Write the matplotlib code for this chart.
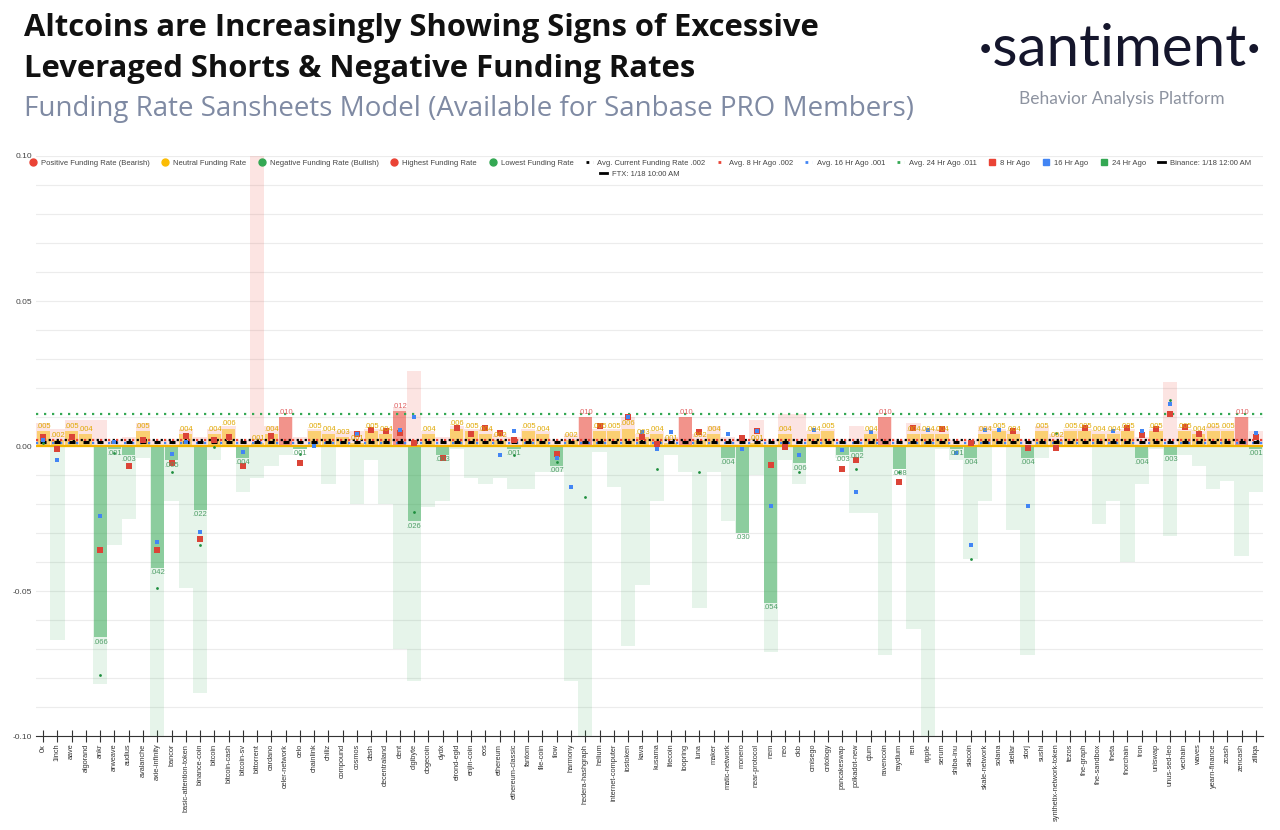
import numpy as np
import matplotlib.pyplot as plt
from matplotlib.lines import Line2D

nan = np.nan

coins = ['0x', '1inch', 'aave', 'algorand', 'ankr', 'arweave', 'audius', 'avalanche',
         'axie-infinity', 'bancor', 'basic-attention-token', 'binance-coin', 'bitcoin',
         'bitcoin-cash', 'bitcoin-sv', 'bittorrent', 'cardano', 'celer-network', 'celo',
         'chainlink', 'chiliz', 'compound', 'cosmos', 'dash', 'decentraland', 'dent',
         'digibyte', 'dogecoin', 'dydx', 'elrond-egld', 'enjin-coin', 'eos', 'ethereum',
         'ethereum-classic', 'fantom', 'file-coin', 'flow', 'harmony', 'hedera-hashgraph',
         'helium', 'internet-computer', 'iostoken', 'kava', 'kusama', 'litecoin', 'loopring',
         'luna', 'maker', 'matic-network', 'monero', 'near-protocol', 'nem', 'neo', 'okb',
         'omisego', 'ontology', 'pancakeswap', 'polkadot-new', 'qtum', 'ravencoin', 'raydium',
         'ren', 'ripple', 'serum', 'shiba-inu', 'siacoin', 'skale-network', 'solana', 'stellar',
         'storj', 'sushi', 'synthetix-network-token', 'tezos', 'the-graph', 'the-sandbox',
         'theta', 'thorchain', 'tron', 'uniswap', 'unus-sed-leo', 'vechain', 'waves',
         'yearn-finance', 'zcash', 'zencash', 'zilliqa']

# current funding rate
current = [0.005, 0.002, 0.005, 0.004, -0.066, -0.001, -0.003, 0.005, -0.042, -0.005,
           0.004, -0.022, 0.004, 0.006, -0.004, 0.001, 0.004, 0.010, -0.001, 0.005,
           0.004, 0.003, 0.001, 0.005, 0.004, 0.012, -0.026, 0.004, -0.003, 0.006,
           0.005, 0.004, 0.002, -0.001, 0.005, 0.004, -0.007, 0.002, 0.010, 0.005,
           0.005, 0.006, 0.003, 0.004, 0.001, 0.010, 0.002, 0.004, -0.004, -0.030,
           0.001, -0.054, 0.004, -0.006, 0.004, 0.005, -0.003, -0.002, 0.004, 0.010,
           -0.008, 0.004, 0.004, 0.004, -0.001, -0.004, 0.004, 0.005, 0.004, -0.004,
           0.005, 0.002, 0.005, 0.005, 0.004, 0.004, 0.005, -0.004, 0.005, -0.003,
           0.005, 0.004, 0.005, 0.005, 0.010, -0.001]

# highest / lowest funding rate (light bars)
range_high = [0.008, 0.006, 0.009, 0.009, 0.009, 0.002, 0.003, 0.008, 0.002, 0.002,
              0.006, 0.003, 0.006, 0.007, 0.002, 0.100, 0.007, 0.010, 0.003, 0.006,
              0.005, 0.005, 0.005, 0.006, 0.006, 0.013, 0.026, 0.005, 0.003, 0.007,
              0.006, 0.006, 0.004, 0.003, 0.006, 0.005, 0.002, 0.004, 0.010, 0.006,
              0.006, 0.010, 0.004, 0.005, 0.003, 0.010, 0.004, 0.007, 0.003, 0.002,
              0.009, 0.002, 0.011, 0.011, 0.005, 0.006, 0.002, 0.007, 0.005, 0.010,
              0.002, 0.008, 0.006, 0.006, 0.002, 0.002, 0.007, 0.006, 0.005, 0.002,
              0.007, 0.004, 0.006, 0.006, 0.005, 0.005, 0.006, 0.003, 0.006, 0.022,
              0.006, 0.005, 0.007, 0.006, 0.010, 0.005]
range_low = [0.0, -0.067, 0.0, 0.0, -0.082, -0.034, -0.025, -0.004, -0.100, -0.019,
             -0.049, -0.085, -0.005, 0.0, -0.016, -0.011, -0.007, -0.003, -0.001, 0.0,
             -0.013, 0.0, -0.020, -0.005, -0.020, -0.070, -0.081, -0.021, -0.019, -0.001,
             -0.011, -0.013, -0.011, -0.015, -0.015, -0.009, -0.009, -0.081, -0.100, -0.002,
             -0.014, -0.069, -0.048, -0.019, -0.003, -0.009, -0.056, -0.009, -0.026, -0.030,
             -0.010, -0.071, -0.005, -0.013, 0.0, 0.0, -0.004, -0.023, -0.023, -0.072,
             -0.008, -0.063, -0.100, -0.001, -0.005, -0.039, -0.019, 0.0, -0.029, -0.072,
             -0.004, 0.0, 0.0, 0.0, -0.027, -0.019, -0.040, -0.013, -0.001, -0.031,
             -0.003, -0.007, -0.015, -0.012, -0.038, -0.016]

hr8 = [0.003, -0.001, 0.003, nan, -0.036, nan, -0.007, 0.002, -0.036, -0.006,
       0.0035, -0.032, 0.002, 0.003, -0.007, nan, 0.0035, nan, -0.006, nan,
       nan, nan, 0.004, 0.0055, 0.0053, 0.0044, 0.001, nan, -0.0042, 0.0063,
       0.0041, 0.0063, 0.0046, 0.002, nan, nan, -0.0028, nan, nan, 0.007,
       nan, 0.0099, 0.003, 0.0007, nan, nan, 0.0048, nan, nan, 0.0029,
       0.005, -0.0066, -0.0005, nan, nan, nan, -0.008, -0.005, nan, nan,
       -0.0124, 0.0063, nan, 0.0057, nan, 0.0011, nan, nan, 0.005, -0.0006,
       nan, -0.0006, nan, 0.0063, nan, nan, 0.0063, 0.0038, 0.0057, 0.011,
       0.0064, 0.004, nan, nan, nan, 0.0032]
hr16 = [0.002, -0.005, nan, nan, -0.024, 0.0013, nan, nan, -0.033, -0.0028,
        0.0013, -0.0295, nan, nan, -0.002, nan, nan, nan, nan, 0.000,
        nan, nan, 0.004, nan, nan, 0.0055, 0.010, nan, nan, nan,
        nan, nan, -0.003, 0.005, nan, nan, -0.004, -0.0143, nan, nan,
        nan, 0.0099, 0.0047, -0.0011, 0.0047, nan, nan, nan, 0.0041, -0.001,
        0.005, -0.0208, nan, -0.003, 0.0055, nan, -0.0014, -0.0157, 0.0049, nan,
        nan, nan, 0.0055, nan, -0.0023, -0.034, 0.0055, 0.0055, nan, -0.0207,
        nan, nan, nan, nan, nan, 0.005, nan, 0.005, nan, 0.0145,
        nan, nan, nan, nan, nan, 0.0044]
hr24 = [0.001, nan, nan, nan, -0.079, -0.0025, nan, nan, -0.049, -0.009,
        nan, -0.034, -0.0005, nan, nan, nan, nan, nan, -0.0028, nan,
        nan, nan, nan, nan, nan, nan, -0.0226, nan, nan, nan,
        nan, nan, nan, -0.003, nan, nan, -0.0054, nan, -0.0177, nan,
        nan, nan, nan, -0.008, nan, nan, -0.009, nan, nan, nan,
        nan, nan, nan, -0.009, nan, nan, nan, -0.008, nan, nan,
        -0.009, nan, nan, nan, nan, -0.039, nan, nan, nan, nan,
        nan, 0.0046, nan, nan, nan, nan, nan, nan, nan, 0.0159,
        nan, nan, nan, nan, nan, nan]

# exchange snapshot marks
binance = [
    0.0015, 0.0015, 0.0015, 0.0015, 0.0015, 0.0015, 0.0015, 0.0015, 0.0015, 0.0015,
    0.0015, 0.0015, 0.0015, 0.0015, 0.0015, 0.0015, 0.0015, 0.0015, 0.0015, 0.0015,
    0.0015, 0.0015, 0.0015, 0.0015, 0.0015, 0.0015, 0.0015, 0.0015, 0.0015, 0.0015,
    0.0015, 0.0015, 0.0015, 0.0015, 0.0015, 0.0015, 0.0015, 0.0015, 0.0015, 0.0015,
    0.0015, 0.0015, 0.0015, 0.0015, 0.0015, 0.0015, 0.0015, 0.0015, 0.0015, 0.0015,
    0.0015, 0.0015, 0.0015, 0.0015, 0.0015, 0.0015, 0.0015, 0.0015, 0.0015, 0.0015,
    0.0015, 0.0015, 0.0015, 0.0015, 0.0015, 0.0015, 0.0015, 0.0015, 0.0015, 0.0015,
    0.0015, 0.0015, 0.0015, 0.0015, 0.0015, 0.0015, 0.0015, 0.0015, 0.0015, 0.0015,
    0.0015, 0.0015, 0.0015, 0.0015, 0.0015, 0.0015]

avg_current, avg_8hr, avg_16hr, avg_24hr = 0.002, 0.002, 0.001, 0.011

RED, YEL, GRN, BLU = '#ea4335', '#fbbc04', '#34a853', '#4285f4'
small = {'family': 'Liberation Sans'}

fig = plt.figure(figsize=(12.8, 8.3), dpi=100)
ax = fig.add_axes([36 / 1280, 94 / 830, 1227 / 1280, 580 / 830])

x = np.arange(len(coins))

ax.bar(x, range_high, width=1.0, color=RED, alpha=0.14, zorder=1, linewidth=0)
ax.bar(x, range_low, width=1.0, color=GRN, alpha=0.12, zorder=1, linewidth=0)
colors = [RED if v >= 0.01 else (YEL if v >= 0 else GRN) for v in current]
ax.bar(x, current, width=0.92, color=colors, alpha=0.5, zorder=2, linewidth=0)

ax.axhline(0, color='#f4b400', lw=1.6, zorder=2.5)

# value labels
for i, v in enumerate(current):
    txt = f"{abs(v):.3f}"[1:]
    if v >= 0.01:
        ax.text(i, v + 0.0004, txt, ha='center', va='bottom', fontsize=5.5, color='#e06060', zorder=6, **small)
    elif v >= 0:
        ax.text(i, v + 0.0004, txt, ha='center', va='bottom', fontsize=5.5, color='#e0a800', zorder=6, **small)
    else:
        ax.text(i, v - 0.0004, txt, ha='center', va='top', fontsize=5.5, color='#4e9e66', zorder=6, **small)

# average lines
ax.axhline(avg_24hr, color=GRN, lw=1.6, ls=(0, (1, 2.6)), zorder=3)
ax.axhline(avg_16hr, color=BLU, lw=1.6, ls=(0, (1, 2.6)), zorder=3)
ax.axhline(avg_8hr, color=RED, lw=1.6, ls=(0, (1, 2.6)), zorder=3)
ax.axhline(avg_current, color='black', lw=1.6, ls=(1.5, (1, 2.6)), zorder=3)

ax.scatter(x, binance, marker='_', s=22, color='black', linewidths=2.2, zorder=4)
ax.scatter(x, hr8, marker='s', s=16, color='#db4437', zorder=5, linewidths=0)
ax.scatter(x, hr16, marker='s', s=10, color=BLU, zorder=5, linewidths=0)
ax.scatter(x, hr24, marker='o', s=4, color='#1e8e3e', zorder=5, linewidths=0)

ax.set_xlim(-0.5, len(coins) - 0.5)
ax.set_ylim(-0.1, 0.1)
ax.set_yticks([-0.1, -0.05, 0, 0.05, 0.1])
ax.set_yticklabels(['-0.10', '-0.05', '0.00', '0.05', '0.10'], fontsize=6, color='#444444', **small)
ax.set_yticks(np.arange(-0.1, 0.1001, 0.01), minor=True)
ax.grid(axis='y', which='both', color='#ececec', lw=0.8, zorder=0)
ax.set_axisbelow(True)
ax.tick_params(axis='y', which='both', length=0, pad=3)
ax.set_xticks(x)
ax.set_xticklabels(coins, rotation=90, fontsize=5.3, color='#333333', **small)
ax.tick_params(axis='x', direction='inout', length=9, width=0.8, color='#333333', pad=1)
for s in ['top', 'right', 'left']:
    ax.spines[s].set_visible(False)
ax.spines['bottom'].set_color('#333333')
ax.spines['bottom'].set_linewidth(0.8)

# legend
dots = (0, (1, 1.5))
handles = [
    Line2D([], [], marker='o', ls='', color=RED, markersize=5),
    Line2D([], [], marker='o', ls='', color=YEL, markersize=5),
    Line2D([], [], marker='o', ls='', color=GRN, markersize=5),
    Line2D([], [], marker='o', ls='', color=RED, markersize=5),
    Line2D([], [], marker='o', ls='', color=GRN, markersize=5),
    Line2D([], [], color='black', ls=dots, lw=2),
    Line2D([], [], color=RED, ls=dots, lw=2),
    Line2D([], [], color=BLU, ls=dots, lw=2),
    Line2D([], [], color=GRN, ls=dots, lw=2),
    Line2D([], [], marker='s', ls='', color=RED, markersize=4),
    Line2D([], [], marker='s', ls='', color=BLU, markersize=4),
    Line2D([], [], marker='s', ls='', color=GRN, markersize=4),
    Line2D([], [], color='black', lw=2),
]
names = ['Positive Funding Rate (Bearish)', 'Neutral Funding Rate', 'Negative Funding Rate (Bullish)',
         'Highest Funding Rate', 'Lowest Funding Rate', 'Avg. Current Funding Rate .002',
         'Avg. 8 Hr Ago .002', 'Avg. 16 Hr Ago .001', 'Avg. 24 Hr Ago .011',
         '8 Hr Ago', '16 Hr Ago', '24 Hr Ago', 'Binance: 1/18 12:00 AM']
leg_font = {'family': 'Liberation Sans', 'size': 5.5}
fig.legend(handles, names, ncol=13, loc='center', bbox_to_anchor=(0.5, 1 - 163 / 830),
           frameon=False, prop=leg_font, handlelength=0.9, handletextpad=0.6,
           columnspacing=1.6, labelcolor='#444444')
fig.legend([Line2D([], [], color='black', lw=2)], ['FTX: 1/18 10:00 AM'], loc='center',
           bbox_to_anchor=(0.5, 1 - 174 / 830), frameon=False, prop=leg_font,
           handlelength=0.9, handletextpad=0.6, labelcolor='#444444')

# titles
fig.text(24 / 1280, 1 - 36 / 830, 'Altcoins are Increasingly Showing Signs of Excessive',
         fontsize=22.3, fontweight='bold', family='Open Sans', color='#111111', va='baseline')
fig.text(24 / 1280, 1 - 77 / 830, 'Leveraged Shorts & Negative Funding Rates',
         fontsize=22.3, fontweight='bold', family='Open Sans', color='#111111', va='baseline')
fig.text(24 / 1280, 1 - 116 / 830, 'Funding Rate Sansheets Model (Available for Sanbase PRO Members)',
         fontsize=20, family='Open Sans', color='#7f8aa3', va='baseline')
fig.text(1262 / 1280, 1 - 66 / 830, '·santiment·', fontsize=42, family='Lato',
         color='#15162c', ha='right', va='baseline')
fig.text(1122 / 1280, 1 - 104 / 830, 'Behavior Analysis Platform', fontsize=12.5, family='Lato',
         color='#8d93a0', ha='center', va='baseline')

fig.savefig('out.png', dpi=100)
